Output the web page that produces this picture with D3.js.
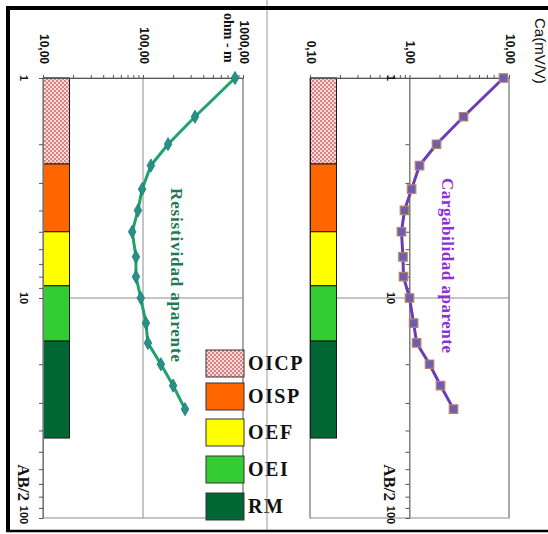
<!DOCTYPE html>
<html>
<head>
<meta charset="utf-8">
<script src="https://cdn.jsdelivr.net/npm/d3@7"></script>
<style>
  html, body { margin: 0; padding: 0; background: #fff; }
  svg { display: block; }
</style>
</head>
<body>
<svg id="chart" width="548" height="534"></svg>
<script>
// Sounding data: half electrode spacing AB/2 (m)
const abHalf = [1, 1.5, 2, 2.5, 3.2, 4, 5, 6.5, 8, 10, 13, 16, 20, 25, 32];
// Apparent resistivity (ohm-m)
const resistivity = [832, 331, 178, 120, 98, 89, 78, 85, 85, 95, 107, 112, 151, 200, 263];
// Apparent chargeability (mV/V)
const chargeability = [8.8, 3.49, 1.87, 1.26, 1.05, 0.89, 0.83, 0.86, 0.87, 1.0, 1.10, 1.18, 1.59, 2.05, 2.77];

// Interpreted layers: AB/2 limits
const layerNames = ["OICP", "OISP", "OEF", "OEI", "RM"];
const layerTops = [1, 2.46, 5.0, 8.8, 15.7];
const layerBottoms = [2.46, 5.0, 8.8, 15.7, 43.3];
const layerColors = ["url(#dots)", "#ff6600", "#ffff00", "#33cc33", "#006633"];

// Axis labels
const resTickLabels = ["10,00", "100,00", "1000,00"];
const caTickLabels = ["0,10", "1,00", "10,00"];
const abTickLabels = ["1", "10", "100"];

const svg = d3.select("#chart");
const serif = "'Liberation Serif', 'Times New Roman', serif";
const sans = "'Liberation Sans', Arial, sans-serif";

// Dotted fill for the OICP layer
const defs = svg.append("defs");
const pat = defs.append("pattern").attr("id", "dots")
  .attr("width", 4).attr("height", 4).attr("patternUnits", "userSpaceOnUse");
pat.append("rect").attr("width", 4).attr("height", 4).attr("fill", "#f8dcdc");
pat.append("circle").attr("cx", 1).attr("cy", 1).attr("r", 0.9).attr("fill", "#d25555");
pat.append("circle").attr("cx", 3).attr("cy", 3).attr("r", 0.9).attr("fill", "#d25555");

// Shared AB/2 scale (runs down the page)
const y = d3.scaleLog().domain([1, 100]).range([78, 518]);

const minorTicks = [];
[1, 10].forEach(d => { for (let k = 1; k < 10; k++) minorTicks.push(d * k); });
minorTicks.push(100);

function panel(opts) {
  const { x, values, crossAt, lineColor, labelColor, title, tickLabels, marker } = opts;
  const [x0, x1] = x.range();
  const g = svg.append("g");

  // plot-area frame and grid
  g.append("rect").attr("x", x0).attr("y", y(1)).attr("width", x1 - x0).attr("height", y(100) - y(1))
    .attr("fill", "none").attr("stroke", "#8c8c8c").attr("stroke-width", 1);
  x.domain().concat([Math.sqrt(x.domain()[0] * x.domain()[1])]).forEach(v => {
    g.append("line").attr("x1", x(v)).attr("x2", x(v)).attr("y1", y(1)).attr("y2", y(100))
      .attr("stroke", "#8c8c8c").attr("stroke-width", 1);
  });
  g.append("line").attr("x1", x0).attr("x2", x1).attr("y1", y(10)).attr("y2", y(10))
    .attr("stroke", "#8c8c8c").attr("stroke-width", 1);

  // layer column
  const colW = 26;
  g.selectAll("rect.layer").data(layerNames).join("rect").attr("class", "layer")
    .attr("x", x0 + 0.5).attr("width", colW)
    .attr("y", (d, i) => y(layerTops[i]))
    .attr("height", (d, i) => y(layerBottoms[i]) - y(layerTops[i]))
    .attr("fill", (d, i) => layerColors[i])
    .attr("stroke", "#1a1a1a").attr("stroke-width", 1);

  // value axis along the top
  const vTicks = [];
  const [d0, d1] = x.domain();
  for (let dec = d0; dec < d1 * 0.999; dec *= 10) for (let k = 1; k < 10; k++) vTicks.push(dec * k);
  vTicks.push(d1);
  const topAxis = g.append("g").attr("transform", `translate(0,${y(1)})`)
    .call(d3.axisTop(x).tickValues(vTicks).tickSize(3).tickSizeOuter(0).tickFormat(""));
  topAxis.select(".domain").attr("stroke", "#555");
  topAxis.selectAll(".tick line").attr("stroke", "#555");
  const decades = [d0, d0 * 10, d1];
  decades.forEach((v, i) => {
    g.append("text").attr("transform", `translate(${x(v) + 1},${y(1) - 14}) rotate(90)`)
      .attr("text-anchor", "end").attr("dy", "0.36em")
      .attr("font-family", sans).attr("font-weight", "bold").attr("font-size", 12)
      .attr("fill", "#111").text(tickLabels[i]);
  });

  // AB/2 axis
  const ax = x(crossAt);
  const leftAxis = g.append("g").attr("transform", `translate(${ax},0)`)
    .call(d3.axisLeft(y).tickValues(minorTicks).tickSize(4).tickSizeOuter(0).tickFormat(""));
  leftAxis.select(".domain").attr("stroke", "#777");
  leftAxis.selectAll(".tick line").attr("stroke", "#555");
  [1, 10, 100].forEach((v, i) => {
    g.append("text").attr("transform", `translate(${ax - 19},${y(v) + (i === 2 ? -3 : 0)}) rotate(90)`)
      .attr("text-anchor", "middle").attr("dy", "0.36em")
      .attr("font-family", sans).attr("font-weight", "bold").attr("font-size", 11)
      .attr("fill", "#111").text(abTickLabels[i]);
  });
  g.append("text").attr("transform", `translate(${ax - 19},${y(100) - 17}) rotate(90)`)
    .attr("text-anchor", "end").attr("dy", "0.36em")
    .attr("font-family", serif).attr("font-weight", "bold").attr("font-size", 17)
    .attr("fill", "#111").text("AB/2");

  // series line and markers
  const pts = abHalf.map((a, i) => [x(values[i]), y(a)]);
  g.append("path").attr("d", d3.line()(pts)).attr("fill", "none")
    .attr("stroke", lineColor).attr("stroke-width", 3).attr("stroke-linejoin", "round");
  g.selectAll("path.mk").data(pts).join("path").attr("class", "mk")
    .attr("transform", d => `translate(${d[0]},${d[1]})`)
    .attr("d", d3.symbol().type(marker.type).size(marker.size))
    .attr("fill", marker.fill).attr("stroke", marker.stroke).attr("stroke-width", marker.strokeWidth);

  // series name
  g.append("text").attr("transform", `translate(${opts.titleX},${opts.titleY}) rotate(90)`)
    .attr("font-family", serif).attr("font-weight", "bold").attr("font-size", 17)
    .attr("textLength", opts.titleLen).attr("lengthAdjust", "spacing")
    .attr("fill", labelColor).text(title);
}

const xRes = d3.scaleLog().domain([10, 1000]).range([43, 243]);
const xCa = d3.scaleLog().domain([0.1, 10]).range([310, 509]);

panel({
  x: xRes, values: resistivity, crossAt: 10,
  lineColor: "#1ea36c", labelColor: "#1d7a58",
  title: "Resistividad aparente", titleX: 171, titleY: 188, titleLen: 174,
  tickLabels: resTickLabels,
  marker: { type: d3.symbolDiamond, size: 50, fill: "#2a8f88", stroke: "#1c7d70", strokeWidth: 0.8 }
});
panel({
  x: xCa, values: chargeability, crossAt: 1,
  lineColor: "#6b3db5", labelColor: "#8e2fd6",
  title: "Cargabilidad aparente", titleX: 442, titleY: 178, titleLen: 175,
  tickLabels: caTickLabels,
  marker: { type: d3.symbolSquare, size: 72, fill: "#6e5fae", stroke: "#b9836a", strokeWidth: 1.2 }
});

// unit titles
svg.append("text").attr("transform", "translate(224,13) rotate(90)")
  .attr("font-family", serif).attr("font-weight", "bold").attr("font-size", 14)
  .attr("fill", "#111").text("ohm - m");
svg.append("text").attr("transform", "translate(535,18) rotate(90)")
  .attr("font-family", sans).attr("font-size", 15)
  .attr("fill", "#111").text("Ca(mV/V)");

// legend
const legend = svg.append("g").attr("transform", "translate(206,350)");
const rowY = [0, 33, 69, 106, 143];
layerNames.forEach((name, i) => {
  legend.append("rect").attr("x", 0).attr("y", rowY[i]).attr("width", 38).attr("height", 27)
    .attr("fill", layerColors[i]).attr("stroke", "#333").attr("stroke-width", 1);
  legend.append("text").attr("x", 42).attr("y", rowY[i] + 20)
    .attr("font-family", serif).attr("font-weight", "bold").attr("font-size", 20)
    .attr("letter-spacing", 1.5).attr("fill", "#111").text(name);
});

// outer frame
svg.append("line").attr("x1", 267).attr("x2", 267).attr("y1", 0).attr("y2", 532)
  .attr("stroke", "#999").attr("stroke-width", 1);
svg.append("line").attr("x1", 6).attr("x2", 548).attr("y1", 8).attr("y2", 8)
  .attr("stroke", "#000").attr("stroke-width", 4);
svg.append("line").attr("x1", 8).attr("x2", 8).attr("y1", 6).attr("y2", 532)
  .attr("stroke", "#000").attr("stroke-width", 4);
svg.append("line").attr("x1", 6).attr("x2", 548).attr("y1", 531).attr("y2", 531)
  .attr("stroke", "#000").attr("stroke-width", 2.5);
</script>
</body>
</html>
